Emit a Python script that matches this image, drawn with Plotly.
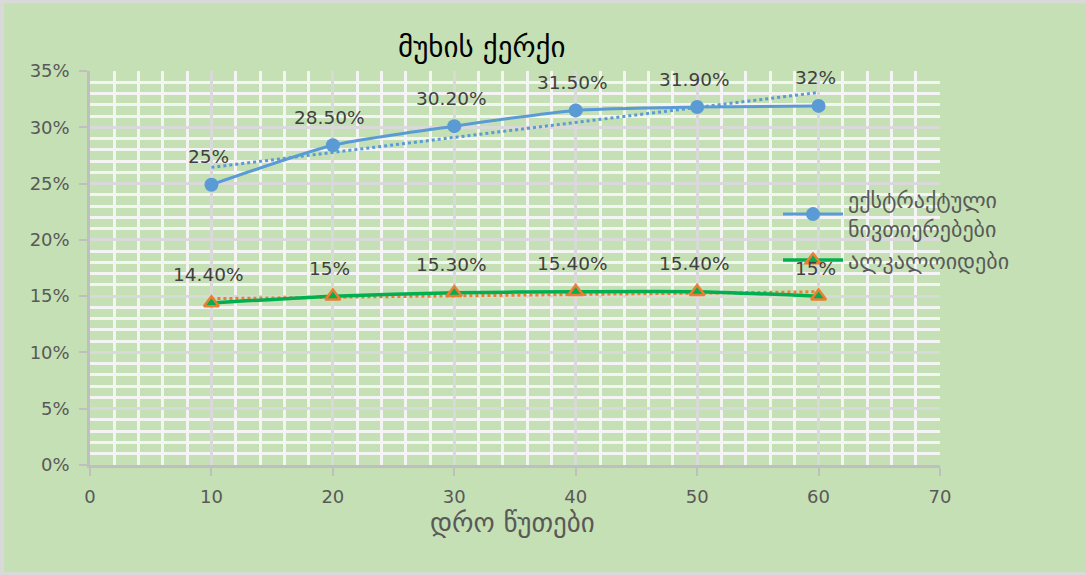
import numpy as np
import plotly.graph_objects as go

# ---- data ----
minutes = [10, 20, 30, 40, 50, 60]
extractive = [0.249, 0.284, 0.301, 0.315, 0.318, 0.319]
extractive_labels = ["25%", "28.50%", "30.20%", "31.50%", "31.90%", "32%"]
alkaloids = [0.144, 0.15, 0.153, 0.154, 0.154, 0.15]
alkaloid_labels = ["14.40%", "15%", "15.30%", "15.40%", "15.40%", "15%"]
series_names = ["ექსტრაქტული<br>ნივთიერებები", "ალკალოიდები"]
chart_title = "მუხის ქერქი"
x_title = "დრო წუთები"

BG = "#C5E0B4"
BLUE = "#5B9BD5"
GREEN = "#00B050"
ORANGE = "#ED7D31"
GEO = "DejaVu Sans"

# layout geometry (pixels)
W, H = 1086, 575
L, R, T, B = 90, 940, 71, 465

def trend(xs, ys):
    k, b = np.polyfit(xs, ys, 1)
    xt = np.array([xs[0], xs[-1]], dtype=float)
    return xt, k * xt + b

fig = go.Figure()

tx, ty = trend(minutes, extractive)
fig.add_trace(go.Scatter(x=tx, y=ty, mode="lines", showlegend=False,
                         line=dict(color=BLUE, width=3, dash="dot"), hoverinfo="skip"))
tx2, ty2 = trend(minutes, alkaloids)
fig.add_trace(go.Scatter(x=tx2, y=ty2, mode="lines", showlegend=False,
                         line=dict(color=ORANGE, width=3, dash="dot"), hoverinfo="skip"))

fig.add_trace(go.Scatter(x=minutes, y=extractive, mode="lines+markers", name=series_names[0],
                         line=dict(color=BLUE, width=3, shape="spline", smoothing=0.6),
                         marker=dict(symbol="circle", size=14, color=BLUE),
                         cliponaxis=False))
fig.add_trace(go.Scatter(x=minutes, y=alkaloids, mode="lines+markers", name=series_names[1],
                         line=dict(color=GREEN, width=3.5, shape="spline", smoothing=0.6),
                         marker=dict(symbol="triangle-up", size=13, color=GREEN,
                                     line=dict(color=ORANGE, width=2.5)),
                         cliponaxis=False))

annotations = []
for xs, ys, labs in [(minutes, extractive, extractive_labels), (minutes, alkaloids, alkaloid_labels)]:
    for xv, yv, lab in zip(xs, ys, labs):
        annotations.append(dict(x=xv, y=yv, text=lab, showarrow=False, yshift=28, xshift=-3,
                                font=dict(family="DejaVu Sans", size=18.5, color="#404040")))

def px_x(p):
    return (p - L) / (R - L)

def px_y(p):
    return (B - p) / (B - T)

annotations.append(dict(xref="paper", yref="paper", x=px_x(481), y=px_y(47), text=chart_title,
                        showarrow=False, xanchor="center", yanchor="middle",
                        font=dict(family=GEO, size=29, color="#000000")))
annotations.append(dict(xref="paper", yref="paper", x=px_x(512), y=px_y(522), text=x_title,
                        showarrow=False, xanchor="center", yanchor="middle",
                        font=dict(family=GEO, size=27, color="#595959")))

axis_common = dict(showline=True, linecolor="#BFBFBF", linewidth=2.5,
                   ticks="outside", ticklen=8, tickcolor="#BFBFBF", tickwidth=2,
                   showgrid=True, gridcolor="#D9D9D9", gridwidth=2.5, zeroline=False,
                   tickfont=dict(family="DejaVu Sans", size=18, color="#595959"))

fig.update_layout(
    width=W, height=H,
    margin=dict(l=L, r=W - R, t=T, b=H - B, pad=0),
    paper_bgcolor=BG, plot_bgcolor=BG,
    xaxis=dict(range=[0, 70], dtick=10, tick0=0,
               minor=dict(dtick=2, showgrid=True, gridcolor="#F4F4F4", gridwidth=2.5, ticks=""),
               ticklabelstandoff=6, **axis_common),
    yaxis=dict(range=[0, 0.35], dtick=0.05, tick0=0, tickformat=".0%",
               minor=dict(dtick=0.01, showgrid=True, gridcolor="#F4F4F4", gridwidth=2.5, ticks=""),
               ticklabelstandoff=6, **axis_common),
    showlegend=True,
    legend=dict(x=px_x(778), y=px_y(179), xanchor="left", yanchor="top",
                bgcolor="rgba(0,0,0,0)", font=dict(family=GEO, size=22, color="#595959"),
                tracegroupgap=0, itemwidth=60),
    annotations=annotations,
    shapes=[dict(type="rect", xref="paper", yref="paper",
                 x0=px_x(2), x1=px_x(1095), y0=px_y(574), y1=px_y(1.5),
                 line=dict(color="#D9D9D9", width=4), fillcolor="rgba(0,0,0,0)", layer="above")],
)

fig.write_html("out.html", config={"displayModeBar": False},
               post_script="document.body.style.margin='0';document.body.style.overflow='hidden';")
